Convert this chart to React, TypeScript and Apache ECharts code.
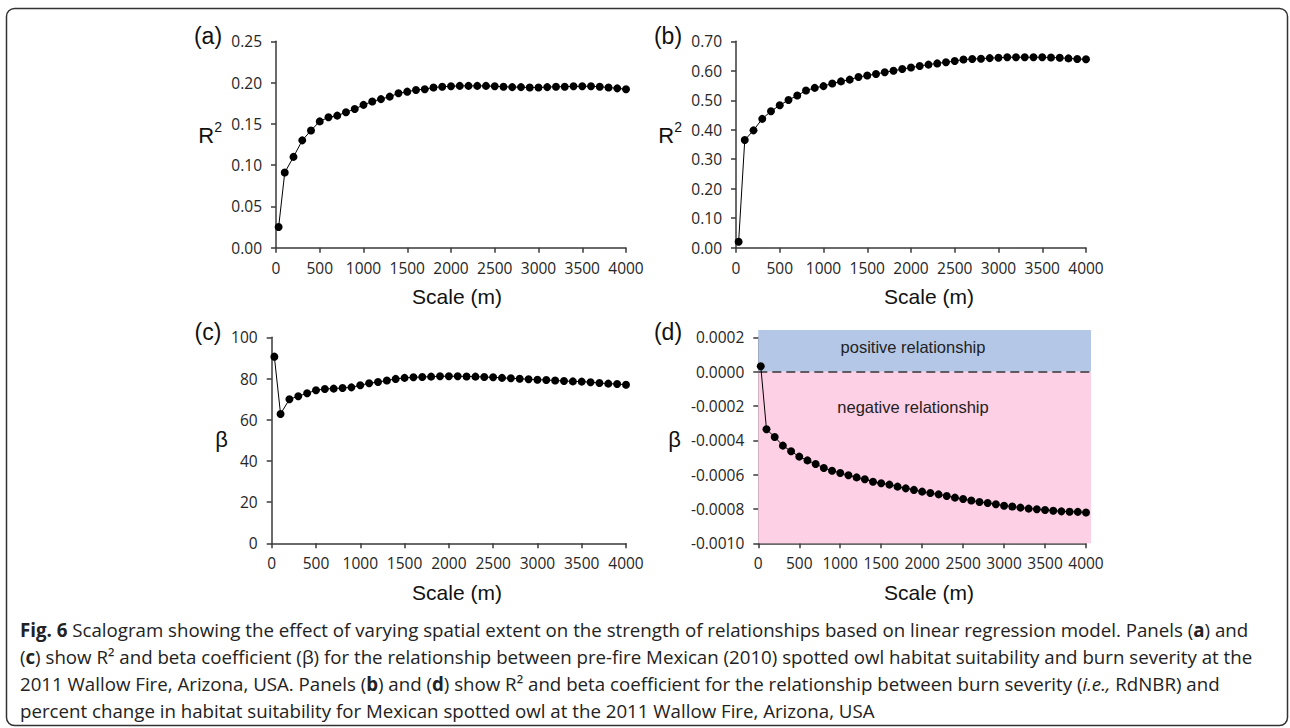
import React, { useEffect, useRef } from "react";
import * as echarts from "echarts";

// Scale (m)
const scales = [30, 100, 200, 300, 400, 500, 600, 700, 800, 900, 1000, 1100, 1200, 1300, 1400, 1500, 1600, 1700, 1800, 1900, 2000, 2100, 2200, 2300, 2400, 2500, 2600, 2700, 2800, 2900, 3000, 3100, 3200, 3300, 3400, 3500, 3600, 3700, 3800, 3900, 4000];

// (a) R2
const r2A = [0.025, 0.091, 0.110, 0.130, 0.142, 0.153, 0.158, 0.160, 0.164, 0.168, 0.173, 0.177, 0.180, 0.183, 0.187, 0.189, 0.191, 0.192, 0.194, 0.195, 0.1955, 0.196, 0.196, 0.196, 0.196, 0.1955, 0.195, 0.1945, 0.1945, 0.194, 0.194, 0.1945, 0.195, 0.195, 0.1955, 0.1955, 0.1955, 0.195, 0.194, 0.193, 0.192];
// (b) R2
const r2B = [0.020, 0.365, 0.398, 0.437, 0.463, 0.483, 0.501, 0.516, 0.533, 0.542, 0.548, 0.557, 0.564, 0.570, 0.579, 0.584, 0.589, 0.595, 0.600, 0.606, 0.611, 0.616, 0.621, 0.625, 0.629, 0.633, 0.638, 0.640, 0.641, 0.643, 0.644, 0.646, 0.646, 0.646, 0.646, 0.646, 0.645, 0.644, 0.642, 0.640, 0.639];
// (c) beta
const betaC = [90.6, 62.8, 69.9, 71.4, 72.8, 74.3, 74.9, 75.1, 75.4, 75.7, 76.7, 77.7, 78.3, 79.0, 79.8, 80.3, 80.6, 80.7, 80.9, 81.1, 81.1, 81.1, 81.0, 80.9, 80.7, 80.6, 80.3, 80.1, 79.9, 79.6, 79.4, 79.3, 79.0, 78.8, 78.6, 78.5, 78.2, 77.8, 77.5, 77.3, 77.0];
// (d) beta
const betaD = [0.000031, -0.000336, -0.000381, -0.000431, -0.000464, -0.000495, -0.000517, -0.000538, -0.000561, -0.000577, -0.000590, -0.000604, -0.000616, -0.000627, -0.000641, -0.000650, -0.000658, -0.000670, -0.000680, -0.000689, -0.000699, -0.000707, -0.000715, -0.000724, -0.000734, -0.000742, -0.000751, -0.000759, -0.000765, -0.000773, -0.000781, -0.000786, -0.000792, -0.000798, -0.000802, -0.000806, -0.000810, -0.000814, -0.000816, -0.000817, -0.000821];

const panelLabels = ["(a)", "(b)", "(c)", "(d)"];
const yNames = ["{r|R}{s|2}", "{r|R}{s|2}", "{r|β}", "{r|β}"];
const xName = "Scale (m)";
const regionLabels = ["positive relationship", "negative relationship"];
const captionLines = [
  "{b|Fig. 6} Scalogram showing the effect of varying spatial extent on the strength of relationships based on linear regression model. Panels ({b|a}) and",
  "({b|c}) show R² and beta coefficient (β) for the relationship between pre-fire Mexican (2010) spotted owl habitat suitability and burn severity at the",
  "2011 Wallow Fire, Arizona, USA. Panels ({b|b}) and ({b|d}) show R² and beta coefficient for the relationship between burn severity ({i|i.e.,} RdNBR) and",
  "percent change in habitat suitability for Mexican spotted owl at the 2011 Wallow Fire, Arizona, USA",
];

const AXIS_COLOR = "#3a3a3a";
const TEXT_COLOR = "#262626";
const TICK_FONT = "'Open Sans', 'Noto Sans', sans-serif";
const LABEL_FONT = "'Liberation Sans', Arial, sans-serif";
const CAP_FONT = "'Open Sans', sans-serif";
const CAP_SIZE = 18.7;

function xAxisCfg(gridIndex: number) {
  return {
    type: "value",
    gridIndex,
    min: 0,
    max: 4000,
    interval: 500,
    axisLine: { show: true, onZero: false, lineStyle: { color: AXIS_COLOR, width: 1.5 } },
    axisTick: { show: true, length: 5, lineStyle: { color: AXIS_COLOR, width: 1.5 } },
    splitLine: { show: false },
    axisLabel: {
      color: TEXT_COLOR,
      fontSize: 15.5,
      fontFamily: TICK_FONT,
      margin: 12,
      formatter: (v: number) => String(Math.round(v)),
    },
  };
}

function yAxisCfg(gridIndex: number, min: number, max: number, interval: number, digits: number) {
  return {
    type: "value",
    gridIndex,
    min,
    max,
    interval,
    axisLine: { show: true, onZero: false, lineStyle: { color: AXIS_COLOR, width: 1.5 } },
    axisTick: { show: true, length: 5, lineStyle: { color: AXIS_COLOR, width: 1.5 } },
    splitLine: { show: false },
    axisLabel: {
      color: TEXT_COLOR,
      fontSize: 15.5,
      fontFamily: TICK_FONT,
      margin: 14,
      formatter: (v: number) => (Math.abs(v) < 1e-12 ? 0 : v).toFixed(digits),
    },
  };
}

function lineSeries(idx: number, values: number[]) {
  return {
    type: "line",
    xAxisIndex: idx,
    yAxisIndex: idx,
    data: scales.map((s, i) => [s, values[i]]),
    symbol: "circle",
    symbolSize: 8,
    itemStyle: { color: "#000" },
    lineStyle: { color: "#000", width: 1 },
    z: 5,
  };
}

export default function App() {
  const ref = useRef<HTMLDivElement>(null);

  useEffect(() => {
    if (!ref.current) return;
    const chart = echarts.init(ref.current, undefined, { renderer: "svg" });

    const grids = [
      { left: 276, top: 41.3, width: 350, height: 206.4 },
      { left: 736, top: 41.3, width: 350, height: 206.4 },
      { left: 271.7, top: 337.3, width: 354.3, height: 206 },
      { left: 758.3, top: 337.3, width: 327.7, height: 206 },
      // background grid for panel (d) shaded regions (slightly larger than the axes)
      { left: 758.3, top: 330, width: 332.7, height: 213.3 },
    ].map((g) => ({ ...g, outerBoundsMode: "none", show: false }));

    const labelPos = [
      [208, 36],
      [668, 36],
      [208, 332],
      [668, 332],
    ];
    const yNamePos = [
      [222, 133],
      [682, 133],
      [228, 437],
      [681, 437],
    ];
    const xNamePos = [
      [457, 296],
      [929, 296],
      [457, 592],
      [929, 592],
    ];

    const graphics: any[] = [
      {
        type: "rect",
        shape: { x: 6.5, y: 8.5, width: 1281, height: 717, r: 8 },
        style: { fill: "none", stroke: "#333", lineWidth: 1.5 },
        z: 1,
      },
    ];
    panelLabels.forEach((t, i) => {
      graphics.push({
        type: "text",
        x: labelPos[i][0],
        y: labelPos[i][1],
        style: { text: t, fontSize: 23, fontFamily: LABEL_FONT, fill: "#111", align: "center", verticalAlign: "middle" },
        z: 10,
      });
      graphics.push({
        type: "text",
        x: yNamePos[i][0],
        y: yNamePos[i][1],
        style: {
          text: yNames[i],
          fontSize: 22,
          fontFamily: LABEL_FONT,
          fill: "#111",
          align: "right",
          verticalAlign: "middle",
          rich: {
            r: { fontSize: 22, fontFamily: LABEL_FONT, fill: "#111", verticalAlign: "bottom", lineHeight: 26 },
            s: { fontSize: 14, fontFamily: LABEL_FONT, fill: "#111", verticalAlign: "top", lineHeight: 26 },
          },
        },
        z: 10,
      });
      graphics.push({
        type: "text",
        x: xNamePos[i][0],
        y: xNamePos[i][1],
        style: { text: xName, fontSize: 21, fontFamily: LABEL_FONT, fill: "#111", align: "center", verticalAlign: "middle" },
        z: 10,
      });
    });
    graphics.push({
      type: "text",
      x: 913,
      y: 347,
      style: { text: regionLabels[0], fontSize: 16.5, fontFamily: LABEL_FONT, fill: "#222", align: "center", verticalAlign: "middle" },
      z: 10,
    });
    graphics.push({
      type: "text",
      x: 913,
      y: 407,
      style: { text: regionLabels[1], fontSize: 16.5, fontFamily: LABEL_FONT, fill: "#222", align: "center", verticalAlign: "middle" },
      z: 10,
    });
    const capY = [629, 656, 683, 710];
    captionLines.forEach((line, i) => {
      graphics.push({
        type: "text",
        x: 20,
        y: capY[i],
        style: {
          text: line,
          fontSize: CAP_SIZE,
          fontFamily: CAP_FONT,
          fill: "#222",
          align: "left",
          verticalAlign: "middle",
          rich: {
            b: { fontWeight: "bold", fontSize: CAP_SIZE, fontFamily: CAP_FONT, fill: "#222" },
            i: { fontStyle: "italic", fontSize: CAP_SIZE, fontFamily: CAP_FONT, fill: "#222" },
          },
        },
        z: 10,
      });
    });

    const option: any = {
      animation: false,
      backgroundColor: "#fff",
      grid: grids,
      xAxis: [
        xAxisCfg(0),
        xAxisCfg(1),
        xAxisCfg(2),
        xAxisCfg(3),
        { type: "value", gridIndex: 4, min: 0, max: 4061, show: false },
      ],
      yAxis: [
        yAxisCfg(0, 0, 0.25, 0.05, 2),
        yAxisCfg(1, 0, 0.7, 0.1, 2),
        yAxisCfg(2, 0, 100, 20, 0),
        yAxisCfg(3, -0.001, 0.0002, 0.0002, 4),
        { type: "value", gridIndex: 4, min: -0.001, max: 0.0002425, show: false },
      ],
      series: [
        {
          type: "line",
          xAxisIndex: 4,
          yAxisIndex: 4,
          data: [],
          z: -1,
          silent: true,
          markArea: {
            silent: true,
            label: { show: false },
            data: [
              [
                { xAxis: 0, yAxis: 0, itemStyle: { color: "#b4c7e7" } },
                { xAxis: 4061, yAxis: 0.0002425 },
              ],
              [
                { xAxis: 0, yAxis: -0.001, itemStyle: { color: "#fdd0e5" } },
                { xAxis: 4061, yAxis: 0 },
              ],
            ],
          },
          markLine: {
            silent: true,
            symbol: "none",
            label: { show: false },
            lineStyle: { color: "#333", width: 1.5, type: [9, 5] },
            data: [{ yAxis: 0 }],
          },
        },
        lineSeries(0, r2A),
        lineSeries(1, r2B),
        lineSeries(2, betaC),
        lineSeries(3, betaD),
      ],
      graphic: graphics,
    };

    chart.setOption(option);
    return () => chart.dispose();
  }, []);

  return <div ref={ref} style={{ position: "absolute", left: 0, top: 0, width: 1290, height: 728 }} />;
}
